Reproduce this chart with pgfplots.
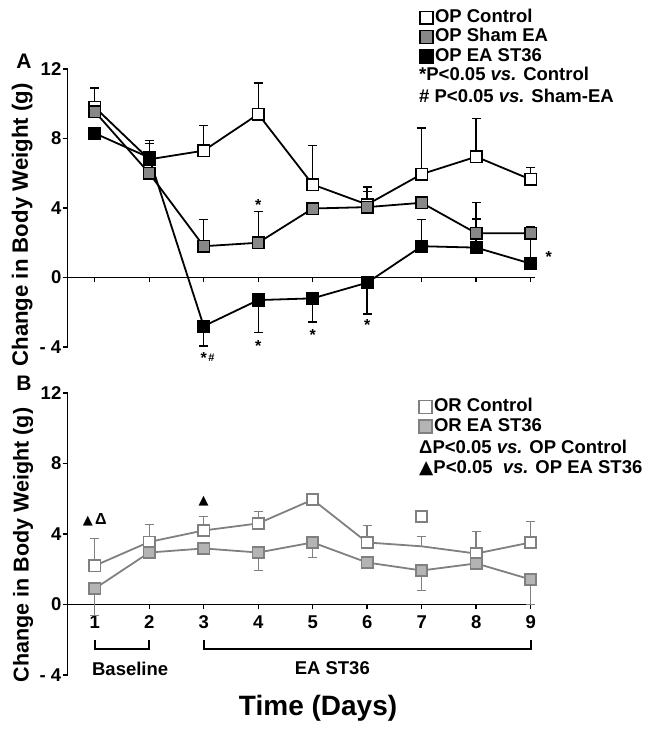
\documentclass[border=0pt]{standalone}
\usepackage{fontspec}
\setmainfont{Liberation Sans}
\newfontfamily\sym{DejaVu Sans}
\usepackage{pgfplots}
\usepackage{pgfplotstable}
\pgfplotsset{compat=1.18}

\definecolor{shamgray}{HTML}{888888}
\definecolor{orline}{HTML}{808080}
\definecolor{orfill}{HTML}{B4B4B4}

% panel A
\pgfplotstableread{
x y ep em
1 9.80 1.10 0
2 6.80 1.10 0
3 7.30 1.45 0
4 9.40 1.80 0
5 5.35 2.25 0
6 4.20 1.00 0
7 5.95 2.65 0
8 6.95 2.20 0
9 5.64 0.70 0
}\opcontrol
\pgfplotstableread{
x y ep em
1 9.55 0 0
2 6.00 0 0
3 1.80 1.55 0
4 2.00 1.80 0
5 3.97 0 0
6 4.05 0.90 0
7 4.30 0 0
8 2.55 1.75 0
9 2.55 0.40 1.70
}\opsham
\pgfplotstableread{
x y ep em
1 8.30 0 0
2 6.90 0.80 0
3 -2.80 0 1.15
4 -1.30 0 1.85
5 -1.20 0 1.35
6 -0.30 0 1.80
7 1.80 1.55 0
8 1.72 1.65 0
9 0.80 0 0
}\opea

% panel B
\pgfplotstableread{
x y ep em
1 2.20 1.55 0
2 3.55 1.00 0
3 4.20 0.80 0
4 4.60 0.68 0
5 5.95 0 0
6 3.52 0.96 0
7 3.30 0.56 0
8 2.89 1.25 0
9 3.52 1.20 0
}\orcontrol
\pgfplotstableread{
x y
1 2.20
2 3.55
3 4.20
4 4.60
5 5.95
6 3.52
7 5.00
8 2.89
9 3.52
}\orcontrolmarks
\pgfplotstableread{
x y ep em
1 0.90 0 1.52
2 2.95 0 0
3 3.18 0 0
4 2.95 0 1.02
5 3.52 0 0.85
6 2.38 0 0
7 1.93 0 1.14
8 2.33 0 0
9 1.42 0 1.42
}\orea

\newcommand{\lbl}{\fontsize{18.5}{18.5}\selectfont\bfseries}

\pgfplotsset{
  panel/.style={
    scale only axis, width=467.5pt,
    xmin=0.5, xmax=9.08, ymin=-4, ymax=12,
    axis x line=middle, axis y line=left,
    axis line style={-, line width=1.6pt, black},
    hide obscured x ticks=false, hide obscured y ticks=false,
    xtick={1,...,9}, ytick={-4,0,4,8,12}, yticklabels={- 4,0,4,8,12},
    tick style={line width=1.4pt, black},
    major tick length=5pt, tick align=outside,
    tick label style={font=\lbl},
    yticklabel style={inner sep=1pt},
    /pgf/number format/assume math mode=true,
    clip=false,
    legend image code/.code={\draw[#1, only marks, mark size=6.4pt] plot coordinates {(0pt,0pt)};},
    legend style={draw=none, fill=none, inner sep=0pt, row sep=1.8pt,
      column sep=2pt, font=\lbl, anchor=north west,
      nodes={inner sep=0pt, text height=13.5pt, text depth=4pt}},
    legend cell align=left,
  },
  ebar/.style={error bars/.cd, y dir=both, y explicit,
    error bar style={line width=1.4pt, #1},
    error mark options={rotate=90, mark size=4.5pt, line width=1.4pt, #1}},
}

\begin{document}
\begin{tikzpicture}
\path[use as bounding box] (0,0) rectangle (654pt,730pt);

\begin{axis}[panel, at={(67.5pt,383pt)}, anchor=south west, height=278pt,
  xticklabels={},
  ylabel={Change in Body Weight (g)},
  ylabel style={at={(axis description cs:-0.097,0.439)}, anchor=center,
    font=\fontsize{22.2}{22.2}\selectfont\bfseries},
  legend style={at={(axis description cs:0.754,1.2165)}},
  ]
  \addplot[black, line width=1.8pt, mark=square*, mark size=5.8pt,
    mark options={fill=white, line width=1.6pt},
    ebar=black]
    table[x=x, y=y, y error plus=ep, y error minus=em] {\opcontrol};
  \addlegendentry{OP Control}
  \addplot[black, line width=1.8pt, mark=square*, mark size=5.8pt,
    mark options={fill=shamgray, line width=1.6pt},
    ebar=black]
    table[x=x, y=y, y error plus=ep, y error minus=em] {\opsham};
  \addlegendentry{OP Sham EA}
  \addplot[black, line width=1.8pt, mark=square*, mark size=5.8pt,
    mark options={fill=black, line width=1.6pt},
    ebar=black]
    table[x=x, y=y, y error plus=ep, y error minus=em] {\opea};
  \addlegendentry{OP EA ST36}

  \node[font=\fontsize{16}{16}\selectfont\bfseries] at (axis cs:4,4.15) {*};
  \node[font=\fontsize{16}{16}\selectfont\bfseries] at (axis cs:3,-4.65) {*};
  \node[font=\fontsize{11}{11}\selectfont\bfseries] at (axis cs:3.14,-4.62) {\#};
  \node[font=\fontsize{16}{16}\selectfont\bfseries] at (axis cs:4,-3.95) {*};
  \node[font=\fontsize{16}{16}\selectfont\bfseries] at (axis cs:5,-3.3) {*};
  \node[font=\fontsize{16}{16}\selectfont\bfseries] at (axis cs:6,-2.75) {*};
  \node[font=\fontsize{16}{16}\selectfont\bfseries] at (axis cs:9.33,1.2) {*};
\end{axis}

\begin{axis}[panel, at={(67.5pt,55pt)}, anchor=south west, height=282pt,
  xticklabel style={yshift=-3pt},
  ylabel={Change in Body Weight (g)},
  ylabel style={at={(axis description cs:-0.095,0.461)}, anchor=center,
    font=\fontsize{21.5}{21.5}\selectfont\bfseries},
  xlabel={Time (Days)},
  xlabel style={at={(axis description cs:0.536,-0.117)}, anchor=center,
    font=\fontsize{28}{28}\selectfont\bfseries},
  legend style={at={(axis description cs:0.752,0.982)}},
  ]
  \addplot[orline, line width=1.8pt, forget plot, ebar=orline]
    table[x=x, y=y, y error plus=ep, y error minus=em] {\orcontrol};
  \addplot[orline, only marks, mark=square*, mark size=5.6pt,
    mark options={fill=white, line width=1.6pt}]
    table[x=x, y=y] {\orcontrolmarks};
  \addlegendentry{OR Control}
  \addplot[orline, line width=1.8pt, mark=square*, mark size=5.6pt,
    mark options={fill=orfill, line width=1.6pt},
    ebar=orline]
    table[x=x, y=y, y error plus=ep, y error minus=em] {\orea};
  \addlegendentry{OR EA ST36}

  \node[font=\fontsize{13}{13}\selectfont] at (axis cs:1,4.8) {{\sym ▲}\,{\fontsize{16}{16}\selectfont\bfseries Δ}};
  \node[font=\fontsize{13}{13}\selectfont] at (axis cs:3,5.85) {\sym ▲};

  \draw[black, line width=1.9pt] (axis cs:1,-2.04) |- (axis cs:2,-2.55) -- (axis cs:2,-2.04);
  \draw[black, line width=1.9pt] (axis cs:3,-2.04) |- (axis cs:9,-2.55) -- (axis cs:9,-2.04);
  \node[font=\lbl] at (axis cs:1.65,-3.63) {Baseline};
  \node[font=\lbl] at (axis cs:5.36,-3.63) {EA ST36};
\end{axis}

\node[font=\fontsize{21}{21}\selectfont\bfseries] at (24pt,669pt) {A};
\node[font=\fontsize{21}{21}\selectfont\bfseries] at (24pt,347pt) {B};

\node[font=\lbl, anchor=base west, inner sep=0pt] at (419pt,649.4pt) {*P<0.05 \textit{vs.} Control};
\node[font=\lbl, anchor=base west, inner sep=0pt] at (419pt,627.4pt) {\# P<0.05 \textit{vs.} Sham-EA};
\node[font=\lbl, anchor=base west, inner sep=0pt] at (419pt,276.4pt) {ΔP<0.05 \textit{vs.} OP Control};
\node[font=\lbl, anchor=base west, inner sep=0pt] at (419pt,256.4pt) {{\sym ▲}P<0.05\ \ \textit{vs.} OP EA ST36};
\end{tikzpicture}
\end{document}
